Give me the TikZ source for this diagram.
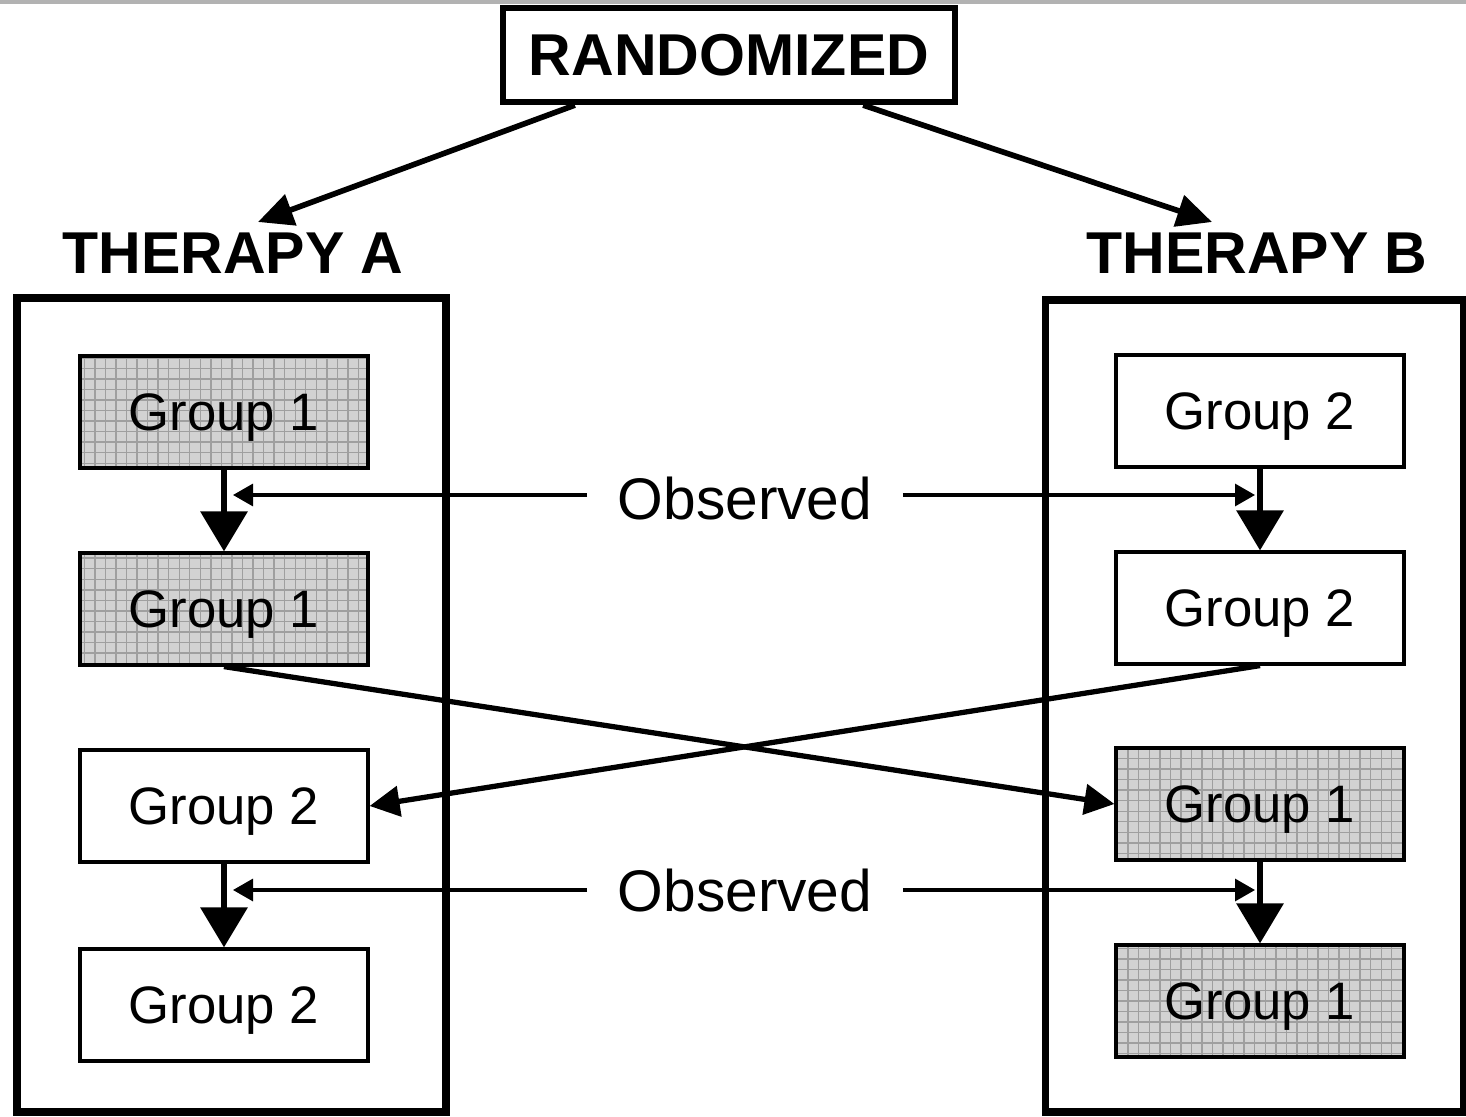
\documentclass[tikz,border=0pt]{standalone}
\usepackage{fontspec}
\setmainfont{Liberation Sans}
\usetikzlibrary{arrows.meta,patterns,calc}

\begin{document}
\begin{tikzpicture}[x=0.1mm,y=-0.1mm,
    heading/.style={font=\fontsize{16.8}{20}\selectfont\bfseries},
    frame/.style={draw,line width=2pt},
    group/.style={draw,line width=0.9pt,minimum width=2.88cm,minimum height=1.12cm,
                  text depth=0pt,font=\fontsize{15}{18}\selectfont},
    shaded/.style={group,preaction={fill=gray!35},pattern=grid,pattern color=gray!75},
    observed/.style={font=\fontsize{16.7}{20}\selectfont,inner xsep=3mm,text depth=0pt},
    main/.style={line width=1.6pt,-{Triangle[length=3.5mm,width=3.2mm]}},
    down/.style={line width=1.8pt,-{Triangle[length=4mm,width=4.6mm]}},
    thin/.style={line width=0.9pt,-{Triangle[length=2mm,width=2.2mm]}},
    cross/.style={line width=1.5pt,-{Triangle[length=3mm,width=3mm]}}]
\useasboundingbox (0,0) rectangle (1466,1117);
\fill[gray!60] (0,0) rectangle (1466,4);
    % top of the chart
    \node[draw,line width=1.8pt,minimum width=4.52cm,minimum height=0.94cm,heading] (rand) at (729,55) {RANDOMIZED};
    \node[heading] (therA) at (233,253) {THERAPY A};
    \node[heading] (therB) at (1257,253) {THERAPY B};
    \coordinate (ta) at (258,222);
    \coordinate (tb) at (1212,222);
    \draw[main] ($(rand.south west)+(75,0)$) -- (ta);
    \draw[main] ($(rand.south east)+(-95,0)$) -- (tb);
    % the two arms
    \node[frame,minimum width=4.29cm,minimum height=8.14cm] (boxA) at (231.5,705) {};
    \node[frame,minimum width=4.18cm,minimum height=8.12cm] (boxB) at (1254,706) {};
    \node[shaded] (a1) at (224,412) {Group 1};
    \node[shaded] (a2) at (224,609) {Group 1};
    \node[group] (a3) at (224,806) {Group 2};
    \node[group] (a4) at (224,1005) {Group 2};
    \node[group] (b1) at (1260,411) {Group 2};
    \node[group] (b2) at (1260,608) {Group 2};
    \node[shaded] (b3) at (1260,804) {Group 1};
    \node[shaded] (b4) at (1260,1001) {Group 1};
    \draw[down] (a1) -- (a2);
    \draw[down] (a3) -- (a4);
    \draw[down] (b1) -- (b2);
    \draw[down] (b3) -- (b4);
    % crossover
    \draw[cross] (a2.south) -- (b3.west);
    \draw[cross] (b2.south) -- (a3.east);
    % observations
    \node[observed] (obs1) at (745,498) {Observed};
    \node[observed] (obs2) at (745,890) {Observed};
    \coordinate (oa1) at (233,495);
    \coordinate (ob1) at (1255,495);
    \coordinate (oa2) at (233,890);
    \coordinate (ob2) at (1255,890);
    \draw[thin] (obs1.west |- oa1) -- (oa1);
    \draw[thin] (obs1.east |- ob1) -- (ob1);
    \draw[thin] (obs2.west) -- (oa2);
    \draw[thin] (obs2.east) -- (ob2);
\end{tikzpicture}
\end{document}
